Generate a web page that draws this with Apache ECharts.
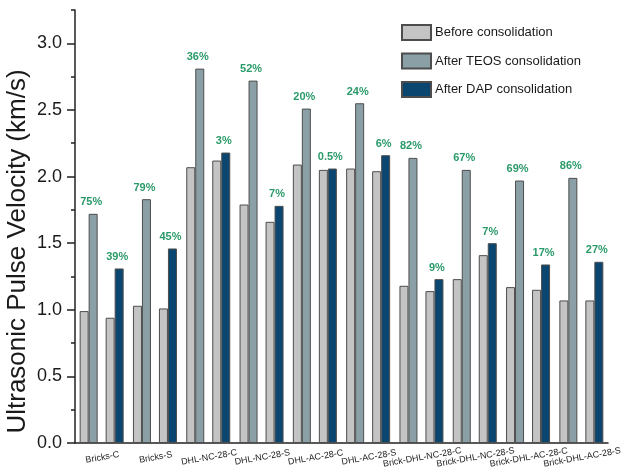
<!DOCTYPE html>
<html>
<head>
<meta charset="utf-8">
<script src="https://cdn.jsdelivr.net/npm/echarts@6.0.0/dist/echarts.min.js"></script>
<style>
html,body{margin:0;padding:0;background:#fff;}
#chart{width:622px;height:475px;}
</style>
</head>
<body>
<div id="chart"></div>
<script>
const categories = ['Bricks-C','Bricks-S','DHL-NC-28-C','DHL-NC-28-S','DHL-AC-28-C','DHL-AC-28-S','Brick-DHL-NC-28-C','Brick-DHL-NC-28-S','Brick-DHL-AC-28-C','Brick-DHL-AC-28-S'];
const beforeTEOS = [0.99,1.03,2.07,1.79,2.09,2.06,1.18,1.23,1.17,1.07];
const afterTEOS  = [1.72,1.83,2.81,2.72,2.51,2.55,2.14,2.05,1.97,1.99];
const beforeDAP  = [0.94,1.01,2.12,1.66,2.05,2.04,1.14,1.41,1.15,1.07];
const afterDAP   = [1.31,1.46,2.18,1.78,2.06,2.16,1.23,1.50,1.34,1.36];
const teosPct = ['75%','79%','36%','52%','20%','24%','82%','67%','69%','86%'];
const dapPct  = ['39%','45%','3%','7%','0.5%','6%','9%','7%','17%','27%'];
const yMajorTicks = [0,0.5,1.0,1.5,2.0,2.5,3.0];
const yMinorTicks = [0.25,0.75,1.25,1.75,2.25,2.75,3.25];
const yMax = 3.25;

const FONT = 'Liberation Sans, Arial, sans-serif';
const border = '#4d4d4d';
const cBefore = '#c4c4c4', cTeos = '#8ba0a6', cDap = '#0b4670';
const green = '#2a9a68';

const chart = echarts.init(document.getElementById('chart'), null, {renderer:'canvas'});

function pctLabel(arr){
  return {
    show:true, position:'top', distance:6, offset:[-2,0],
    color:green, fontWeight:'bold', fontSize:11, fontFamily:FONT,
    formatter: p => arr[p.dataIndex]
  };
}
const barItem = c => ({color:c, borderColor:border, borderWidth:1});

chart.setOption({
  animation:false,
  textStyle:{fontFamily:FONT},
  grid:{left:75, right:14, top:10, bottom:32, containLabel:false, outerBoundsMode:'none'},
  legend:{
    orient:'vertical', left:401, top:24, padding:0,
    itemWidth:29, itemHeight:15, itemGap:11.5,
    icon:'rect',
    textStyle:{fontSize:13, color:'#1a1a1a', fontFamily:FONT, padding:[0,0,0,-1]},
    data:['Before consolidation','After TEOS consolidation','After DAP consolidation']
  },
  xAxis:[{
    type:'category', data:categories, position:'bottom',
    axisLine:{lineStyle:{color:'#222', width:1.5}},
    axisTick:{alignWithLabel:true, length:7, lineStyle:{color:'#222', width:1.5}},
    axisLabel:{rotate:10, align:'center', verticalAlign:'top', margin:10, fontSize:9, color:'#222', fontFamily:FONT, interval:0}
  },{
    type:'category', data:categories, position:'bottom',
    axisLine:{show:false},
    axisTick:{length:3, lineStyle:{color:'#222', width:1.5}},
    axisLabel:{show:false}
  }],
  yAxis:[{
    type:'value', min:0, max:yMax, position:'left',
    name:'Ultrasonic Pulse Velocity (km/s)', nameLocation:'middle', nameGap:44, nameMoveOverlap:false,
    nameTextStyle:{fontSize:26, color:'#1a1a1a', fontFamily:FONT, padding:[0,50,0,0]},
    splitLine:{show:false},
    axisLine:{show:true, lineStyle:{color:'#222', width:1.5}},
    axisTick:{show:true, length:8, customValues:yMajorTicks, lineStyle:{color:'#222', width:1.5}},
    axisLabel:{customValues:yMajorTicks, fontSize:18, color:'#1a1a1a', margin:13, fontFamily:FONT,
      formatter: v => v.toFixed(1)}
  },{
    type:'value', min:0, max:yMax, position:'left',
    splitLine:{show:false},
    axisLine:{show:false},
    axisTick:{show:true, length:4, customValues:yMinorTicks, lineStyle:{color:'#222', width:1.5}},
    axisLabel:{show:false}
  }],
  series:[
    {name:'Before consolidation', type:'bar', data:beforeTEOS, barWidth:9, barGap:'0%', itemStyle:barItem(cBefore)},
    {name:'After TEOS consolidation', type:'bar', data:afterTEOS, barWidth:9, barGap:'0%', itemStyle:barItem(cTeos), label:pctLabel(teosPct)},
    {name:'spacer', type:'bar', data:categories.map(()=>null), barWidth:8, barGap:'0%', itemStyle:{color:'transparent'}},
    {name:'Before consolidation', type:'bar', data:beforeDAP, barWidth:9, barGap:'0%', itemStyle:barItem(cBefore)},
    {name:'After DAP consolidation', type:'bar', data:afterDAP, barWidth:9, barGap:'0%', itemStyle:barItem(cDap), label:pctLabel(dapPct)}
  ]
});
</script>
</body>
</html>
